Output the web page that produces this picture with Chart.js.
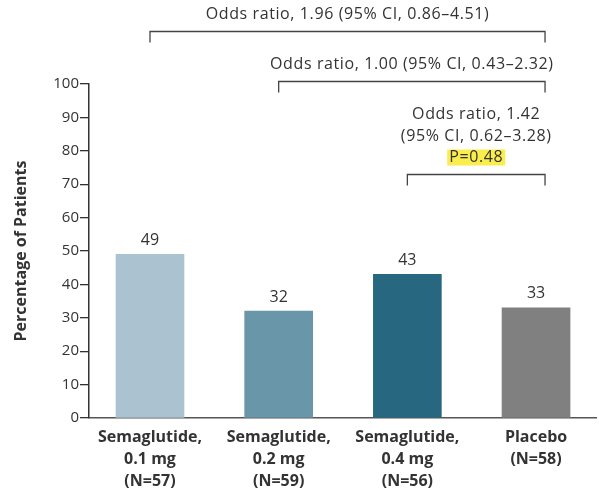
<!DOCTYPE html>
<html>
<head>
<meta charset="utf-8">
<script src="https://cdn.jsdelivr.net/npm/chart.js@4.4.1/dist/chart.umd.min.js"></script>
<style>
  html, body { margin: 0; padding: 0; background: #fff; }
  #wrap { width: 599px; height: 496px; position: relative; }
</style>
</head>
<body>
<div id="wrap"><canvas id="c" width="599" height="496"></canvas></div>
<script>
// Groups and percentages of patients
const categories = [
  ["Semaglutide,", "0.1 mg", "(N=57)"],
  ["Semaglutide,", "0.2 mg", "(N=59)"],
  ["Semaglutide,", "0.4 mg", "(N=56)"],
  ["Placebo", "(N=58)"]
];
const percentages = [49, 32, 43, 33];
const barColors = ["#abc3d0", "#6a96a9", "#276880", "#808080"];
const yTicks = [0, 10, 20, 30, 40, 50, 60, 70, 80, 90, 100];

// Comparisons against placebo (group index 3)
const compareFrom = [0, 1, 2];
const compareTo = [3, 3, 3];
const compareLevel = [116, 101, 73];   // bracket height in percentage units
const compareText = [
  ["Odds ratio, 1.96 (95% CI, 0.86\u20134.51)"],
  ["Odds ratio, 1.00 (95% CI, 0.43\u20132.32)"],
  ["Odds ratio, 1.42", "(95% CI, 0.62\u20133.28)", "P=0.48"]
];

const FONT = "'Open Sans', Lato, sans-serif";
const INK = "#333333";

const annotate = {
  id: "annotate",
  afterDatasetsDraw(chart) {
    const { ctx } = chart;
    const xs = chart.scales.x, ys = chart.scales.y;
    ctx.save();
    ctx.fillStyle = INK;
    ctx.font = "16px " + FONT;
    ctx.textAlign = "center";
    ctx.textBaseline = "middle";
    // value labels above each bar
    const meta = chart.getDatasetMeta(0);
    meta.data.forEach((bar, i) => {
      ctx.fillText(String(percentages[i]), bar.x, bar.y - 14);
    });
    // comparison brackets
    ctx.letterSpacing = "0.6px";
    const rightShift = 9, arm = 11, gap = 17, lh = 21.5;
    for (let k = 0; k < compareFrom.length; k++) {
      const x1 = xs.getPixelForValue(compareFrom[k]);
      const x2 = xs.getPixelForValue(compareTo[k]) + rightShift;
      const y = Math.round(ys.getPixelForValue(compareLevel[k])) + 0.5;
      ctx.strokeStyle = "#444";
      ctx.lineWidth = 1.3;
      ctx.beginPath();
      ctx.moveTo(x1, y + arm);
      ctx.lineTo(x1, y);
      ctx.lineTo(x2, y);
      ctx.lineTo(x2, y + arm);
      ctx.stroke();
      const lines = compareText[k];
      const cx = (x1 + x2) / 2;
      lines.forEach((t, j) => {
        const ty = y - gap - (lines.length - 1 - j) * lh;
        if (t.startsWith("P=")) {
          const w = ctx.measureText(t).width;
          ctx.fillStyle = "#fbee4c";
          ctx.fillRect(cx - w / 2 - 2, ty - 8, w + 4, 16);
          ctx.fillStyle = INK;
        }
        ctx.fillText(t, cx, ty);
      });
    }
    ctx.restore();
  }
};

new Chart(document.getElementById("c"), {
  type: "bar",
  data: {
    datasets: [{
      data: percentages.map((v, i) => ({ x: i, y: v })),
      backgroundColor: barColors,
      borderWidth: 0,
      barThickness: 68
    }]
  },
  options: {
    responsive: false,
    animation: false,
    events: [],
    layout: { padding: { top: 84, right: 3, bottom: 0, left: 0 } },
    plugins: { legend: { display: false }, tooltip: { enabled: false } },
    scales: {
      x: {
        type: "linear",
        offset: false,
        min: -0.474,
        max: 3.466,
        afterBuildTicks(scale) { scale.ticks = categories.map((c, i) => ({ value: i })); },
        afterFit(scale) { scale.height = 78; },
        ticks: {
          callback: (v) => categories[v],
          color: INK,
          font: { family: FONT, size: 16, weight: "bold", lineHeight: 1.35 },
          padding: 9,
          maxRotation: 0,
          autoSkip: false
        },
        grid: { display: false, drawTicks: false },
        border: { display: true, color: "#555", width: 1.5 }
      },
      y: {
        min: 0,
        max: 100,
        afterBuildTicks(scale) { scale.ticks = yTicks.map(v => ({ value: v })); },
        afterFit(scale) { scale.width = 89; },
        ticks: {
          color: INK,
          font: { family: FONT, size: 15 },
          padding: 1
        },
        grid: { display: true, drawOnChartArea: false, drawTicks: true, tickLength: 9, color: "#333", lineWidth: 1.3 },
        border: { display: true, color: "#333", width: 1.5 },
        title: {
          display: true,
          text: "Percentage of Patients",
          color: INK,
          font: { family: FONT, size: 16, weight: "bold" },
          padding: { top: 12, bottom: 0 }
        }
      }
    }
  },
  plugins: [annotate]
});
</script>
</body>
</html>
